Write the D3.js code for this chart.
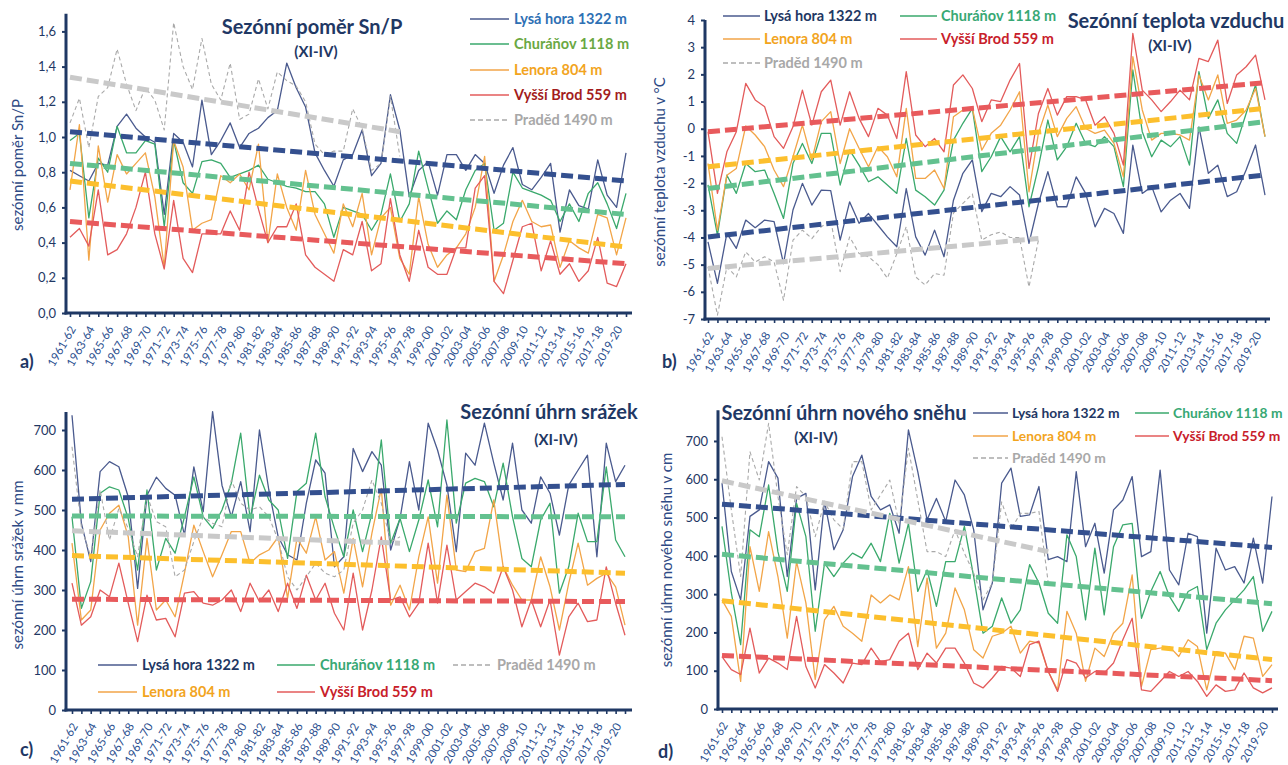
<!DOCTYPE html>
<html>
<head>
<meta charset="utf-8">
<script src="https://cdn.jsdelivr.net/npm/d3@7"></script>
<style>
  body { margin: 0; background: #fff; }
  svg { display: block; }
  text { font-family: Lato, "Open Sans", sans-serif; }
</style>
</head>
<body>
<svg id="chart" width="1288" height="765"></svg>
<script>
// Winter seasons XI–IV
const seasons = ["1961-62","1962-63","1963-64","1964-65","1965-66","1966-67","1967-68","1968-69","1969-70","1970-71",
  "1971-72","1972-73","1973-74","1974-75","1975-76","1976-77","1977-78","1978-79","1979-80","1980-81",
  "1981-82","1982-83","1983-84","1984-85","1985-86","1986-87","1987-88","1988-89","1989-90","1990-91",
  "1991-92","1992-93","1993-94","1994-95","1995-96","1996-97","1997-98","1998-99","1999-00","2000-01",
  "2001-02","2002-03","2003-04","2004-05","2005-06","2006-07","2007-08","2008-09","2009-10","2010-11",
  "2011-12","2012-13","2013-14","2014-15","2015-16","2016-17","2017-18","2018-19","2019-20","2020-21"];

const stations = ["Lysá hora 1322 m", "Churáňov 1118 m", "Lenora 804 m", "Vyšší Brod 559 m", "Praděd 1490 m"];

// a) seasonal ratio of new snow to precipitation (Sn/P)
const snpLysa = [0.81,0.78,0.75,0.85,0.84,1.06,1.13,1.05,1.00,0.97, 0.56,1.02,0.97,0.83,1.21,0.90,0.98,1.08,0.94,1.02,
  1.05,1.11,1.15,1.42,1.28,1.17,0.91,0.81,0.72,0.87, 0.90,1.04,0.78,0.85,1.24,1.04,0.66,0.81,0.86,0.67,
  0.90,0.90,0.81,0.90,0.85,0.68,0.84,0.94,0.73,0.70, 0.77,0.85,0.46,0.70,0.61,0.59,0.87,0.67,0.60,0.91];
const snpChur = [0.98,1.02,0.54,0.88,0.80,1.06,0.91,0.91,0.98,0.96, 0.49,0.98,0.74,0.68,0.86,0.87,0.85,0.77,0.79,0.81,
  0.84,0.76,0.74,0.72,0.71,0.69,0.69,0.62,0.43,0.60, 0.58,0.56,0.47,0.56,0.79,0.52,0.62,0.92,0.71,0.51,
  0.58,0.53,0.70,0.81,0.85,0.47,0.51,0.80,0.71,0.69, 0.67,0.64,0.52,0.62,0.52,0.68,0.74,0.62,0.48,0.68];
const snpLen = [0.70,1.07,0.30,0.95,0.63,0.90,0.79,0.85,0.91,0.66, 0.26,0.98,0.83,0.47,0.51,0.53,0.78,0.74,0.79,0.70,
  0.96,0.40,0.79,0.60,0.47,0.81,0.56,0.45,0.34,0.62, 0.49,0.68,0.33,0.54,0.60,0.31,0.22,0.66,0.39,0.26,
  0.33,0.37,0.45,0.60,0.89,0.18,0.33,0.52,0.64,0.52, 0.49,0.50,0.26,0.41,0.37,0.34,0.56,0.54,0.33,0.54];
const snpVB = [0.43,0.48,0.38,0.70,0.33,0.36,0.45,0.60,0.80,0.45, 0.25,0.64,0.31,0.23,0.45,0.45,0.45,0.58,0.47,0.80,
  0.59,0.40,0.49,0.49,0.62,0.33,0.26,0.22,0.18,0.36, 0.33,0.52,0.24,0.28,0.65,0.33,0.18,0.47,0.26,0.22,
  0.22,0.37,0.37,0.71,0.78,0.18,0.11,0.30,0.49,0.51, 0.24,0.41,0.22,0.28,0.18,0.24,0.43,0.17,0.15,0.28];
const snpPrad = [1.08,1.22,0.94,1.23,1.28,1.50,1.30,1.15,1.28,1.21, 1.04,1.65,1.40,1.27,1.56,1.30,1.21,1.42,1.10,1.13,
  1.33,1.16,1.37,1.32,1.29,1.20,0.96,0.90,0.92,0.92, 1.16,1.05,0.81,0.85,1.23,0.89];
const snpTrend = [[1.03,0.75],[0.85,0.56],[0.75,0.375],[0.52,0.28],[1.34,1.03]];
const snpTicks = [0,0.2,0.4,0.6,0.8,1.0,1.2,1.4,1.6];

// b) seasonal air temperature (°C)
const tLysa = [-4.16,-5.69,-3.85,-4.40,-3.36,-3.64,-3.36,-3.42,-4.96,-2.99, -2.01,-2.81,-2.26,-2.28,-4.10,-2.69,-3.48,-3.12,-3.55,-3.98,
  -4.34,-2.20,-3.98,-4.65,-3.73,-4.71,-2.63,-1.64,-1.15,-3.05, -2.38,-2.50,-2.13,-2.44,-4.22,-2.75,-1.58,-2.87,-2.87,-1.77,
  -2.38,-3.61,-2.93,-3.12,-3.85,-0.60,-2.38,-2.13,-3.06,-2.63, -2.38,-2.93,0.07,-1.64,-1.34,-2.50,-2.32,-1.52,-0.60,-2.44];
const tChur = [-2.07,-3.91,-1.71,-2.38,-1.28,-1.58,-1.52,-2.38,-3.30,-1.28, -0.54,-1.28,-0.17,-0.17,-2.07,-0.79,-1.34,-1.95,-1.77,-2.07,
  -2.38,-0.36,-2.26,-2.50,-2.81,-2.26,-0.42,0.20,0.75,-1.58, -1.03,-0.29,-0.85,-0.29,-2.87,-1.40,0.32,-1.15,-0.66,0.20,
  -0.54,-0.66,-0.29,-0.66,-2.13,2.16,-0.11,-1.03,-0.42,-0.66, -0.29,-1.34,2.10,0.38,1.06,-0.17,-0.54,0.56,1.61,-0.29];
const tLen = [-1.28,-3.73,-1.71,-1.46,0.10,-0.23,-0.66,-1.52,-2.13,-1.03, 0.13,-1.15,0.26,0.63,-1.28,0.00,-0.72,-1.40,-0.66,-1.03,
  -1.77,0.75,-1.83,-1.83,-1.52,-2.20,0.44,0.69,0.75,-0.79, -0.17,0.13,0.69,1.36,-2.32,-0.17,0.87,-0.29,0.38,0.81,
  0.01,-0.17,-0.05,-0.54,-1.77,2.65,0.69,-0.42,-0.17,-0.17, -0.23,-0.42,1.98,1.06,1.98,0.20,0.32,0.69,1.48,-0.29];
const tVB = [-0.11,-2.38,-0.85,-0.11,1.67,1.06,0.81,-0.29,-0.72,0.07, 1.42,0.13,1.36,1.79,0.13,1.36,0.38,-0.29,0.75,0.50,
  -0.36,2.10,-0.23,-0.66,-0.36,-0.85,1.61,1.98,1.48,0.26, 1.06,1.00,1.79,2.40,-1.46,0.56,1.48,0.50,1.18,1.18,
  1.06,0.13,0.44,-0.17,-1.34,3.51,1.42,1.06,0.63,1.00, 1.42,1.06,2.59,2.47,3.26,0.93,1.98,2.28,2.71,1.06];
const tPrad = [-5.08,-6.86,-5.08,-5.45,-4.53,-4.90,-4.71,-4.90,-6.31,-4.10, -3.73,-4.04,-3.61,-3.36,-5.26,-3.98,-4.59,-4.71,-5.00,-5.50,
  -4.60,-3.60,-5.45,-5.75,-5.33,-5.39,-3.10,-2.75,-2.40,-4.10, -3.90,-3.80,-4.00,-4.00,-5.82,-4.10];
const tTrend = [[-3.98,-1.70],[-2.20,0.26],[-1.40,0.75],[-0.11,1.69],[-5.14,-4.04]];
const tTicks = [-7,-6,-5,-4,-3,-2,-1,0,1,2,3,4];

// c) seasonal precipitation total (mm)
const pLysa = [737,467,371,596,621,608,533,304,537,582, 554,537,437,608,496,746,562,483,571,446,
  700,550,433,388,375,517,625,592,358,383, 654,596,646,612,400,479,621,500,717,650,
  562,396,642,612,717,617,525,667,500,467, 583,542,437,562,600,637,383,667,571,612];
const pChur = [483,254,321,542,558,550,479,350,550,350, 429,392,483,583,483,454,500,567,692,479,
  587,525,500,379,546,567,692,533,454,383, 500,396,492,675,417,479,396,475,575,458,
  725,467,567,579,571,508,617,483,379,358, 475,517,292,358,492,421,421,608,425,383];
const pLen = [417,225,250,450,492,512,433,212,429,250, 275,233,342,462,396,333,388,446,446,367,
  388,400,433,279,429,392,483,375,396,292, 429,308,442,554,262,312,250,383,483,317,
  537,350,346,396,404,525,358,312,275,275, 383,308,200,317,417,312,329,342,308,212];
const pVB = [317,212,233,300,283,367,267,171,287,225, 229,183,292,296,267,262,275,300,246,317,
  271,300,246,317,254,337,275,317,242,200, 342,200,300,433,275,283,233,267,417,267,
  412,275,296,317,308,292,358,300,208,275, 208,275,137,233,267,221,225,358,267,187];
const pPrad = [658,458,383,550,425,504,454,383,537,471, 458,333,350,421,483,467,458,575,517,500,
  508,483,425,333,300,333,367,342,333,350, 467,500,575,517,420,433];
const pTrend = [[527,564],[485,483],[386,342],[277,271],[448,417]];
const pTicks = [0,100,200,300,400,500,600,700];

// d) seasonal new snow total (cm)
const sLysa = [590,359,285,503,520,646,603,346,550,563, 311,542,416,468,607,663,555,520,533,459,
  729,620,494,550,490,598,559,468,259,329, 590,629,503,507,581,390,398,385,620,424,
  485,355,520,546,607,398,411,624,363,324, 459,450,198,420,363,372,329,446,329,555];
const sChur = [477,303,168,468,450,585,411,307,537,450, 203,381,346,381,407,394,433,385,511,381,
  485,307,363,268,385,385,477,346,198,216, 290,224,259,377,329,250,224,455,398,233,
  420,246,424,481,485,237,307,359,294,255, 307,320,155,224,259,285,311,346,203,255];
const sLen = [285,242,72,424,307,463,346,185,385,277, 77,233,268,216,198,177,298,277,298,285,
  372,163,342,159,198,316,259,155,133,190, 198,216,146,177,172,98,50,255,198,72,
  159,137,198,224,350,59,155,159,163,137, 181,163,50,150,146,103,190,185,85,116];
const sVB = [137,103,90,211,94,133,120,103,242,111, 55,116,94,68,120,116,159,124,129,177,
  198,103,146,120,159,159,120,68,55,81, 111,107,85,168,177,98,46,129,120,81,
  98,94,120,181,237,50,46,72,98,85, 98,72,33,63,46,50,94,55,42,55];
const sPrad = [711,520,346,672,598,746,555,403,581,555, 450,542,494,470,646,646,520,559,598,485,
  681,546,411,411,398,468,407,355,285,329, 541,468,511,511,516,329];
const sTrend = [[535,422],[404,275],[283,129],[140,74],[596,411]];
const sTicks = [0,100,200,300,400,500,600,700];

const NAVY = "#1f3864";
const LABEL_BLUE = "#2b4f8f";
const lineColors = ["#4a5a8e", "#3aa96c", "#f2a548", "#e35b5b", "#a9a9a9"];
const trendColors = ["#34508f", "#63c18f", "#fcbf2d", "#e85a5c", "#c9c9c9"];
const legendTextA = ["#2e70b4", "#6aa843", "#f2a41e", "#a31c1c", "#a8a8a8"];
const legendTextB = ["#1f3864", "#38a874", "#f2a41e", "#c8202a", "#a8a8a8"];

const svg = d3.select("#chart");

function drawPanel(p) {
  const g = svg.append("g");
  const x = d3.scalePoint().domain(seasons).range([p.first, p.last]);
  const y = d3.scaleLinear().domain(p.yDomain).range(p.yRange);
  const base = y(p.yDomain[0]);

  // category axis: a tick per season, a label every other season
  const xa = d3.axisBottom(x).tickSize(4).tickSizeOuter(0)
    .tickFormat((d, i) => (i % 2 === 0 ? d : ""));
  const gx = g.append("g").attr("transform", `translate(0,${base})`).call(xa);
  gx.select(".domain").remove();
  gx.selectAll(".tick line").attr("stroke", NAVY).attr("stroke-width", 1.6);
  gx.selectAll(".tick text")
    .attr("x", -11).attr("y", 9).attr("dy", "0.35em")
    .attr("transform", "rotate(-60)")
    .attr("text-anchor", "end")
    .attr("fill", LABEL_BLUE).style("font-size", "11.5px");

  // value axis
  const ya = d3.axisLeft(y).tickValues(p.ticks).tickSize(4).tickPadding(6).tickFormat(p.fmt);
  const gy = g.append("g").attr("transform", `translate(${p.axisX},0)`).call(ya);
  gy.select(".domain").remove();
  gy.selectAll(".tick line").attr("stroke", NAVY).attr("stroke-width", 2);
  gy.selectAll(".tick text").attr("fill", NAVY).style("font-size", "13px");

  g.append("line").attr("x1", p.axisX).attr("x2", p.axisX)
    .attr("y1", base + 1.5).attr("y2", p.yRange[1])
    .attr("stroke", NAVY).attr("stroke-width", 3);
  g.append("line").attr("x1", p.axisX - 1.5).attr("x2", p.xEnd)
    .attr("y1", base).attr("y2", base)
    .attr("stroke", NAVY).attr("stroke-width", 3);

  // station series
  const line = d3.line().x((d, i) => x(seasons[i])).y(d => y(d));
  p.data.forEach((vals, k) => {
    g.append("path").datum(vals)
      .attr("d", line)
      .attr("fill", "none")
      .attr("stroke", lineColors[k])
      .attr("stroke-width", k === 4 ? 1.1 : 1.3)
      .attr("stroke-dasharray", k === 4 ? "4,3" : null)
      .attr("stroke-linejoin", "round");
  });

  // linear trends
  p.trends.forEach((t, k) => {
    const n = p.data[k].length;
    g.append("line")
      .attr("x1", x(seasons[0])).attr("y1", y(t[0]))
      .attr("x2", x(seasons[n - 1])).attr("y2", y(t[1]))
      .attr("stroke", trendColors[k]).attr("stroke-width", 5)
      .attr("stroke-dasharray", "12,5");
  });

  // legend
  p.legend.forEach(e => {
    g.append("line").attr("x1", e.lx1).attr("x2", e.lx2).attr("y1", e.y).attr("y2", e.y)
      .attr("stroke", lineColors[e.k]).attr("stroke-width", 1.3)
      .attr("stroke-dasharray", e.k === 4 ? "5,3" : null);
    g.append("text").attr("x", e.tx).attr("y", e.y).attr("dy", "0.35em")
      .attr("fill", p.legendText[e.k]).style("font-size", p.legendSize).style("font-weight", 700)
      .text(stations[e.k]);
  });

  // titles
  g.append("text").attr("x", p.title.x).attr("y", p.title.y).attr("dy", "0.35em")
    .attr("text-anchor", "middle").attr("fill", NAVY)
    .style("font-size", "20px").style("font-weight", 700).text(p.title.text);
  g.append("text").attr("x", p.sub.x).attr("y", p.sub.y).attr("dy", "0.35em")
    .attr("text-anchor", "middle").attr("fill", NAVY)
    .style("font-size", "15px").style("font-weight", 700).text("(XI-IV)");

  // value axis title
  g.append("text")
    .attr("transform", `translate(${p.ytitle.x},${p.ytitle.y}) rotate(-90)`)
    .attr("text-anchor", "middle").attr("dy", "0.35em")
    .attr("fill", "#2e4a85").style("font-size", "15px").text(p.ytitle.text);

  // panel letter
  g.append("text").attr("x", p.letter.x).attr("y", p.letter.y).attr("dy", "0.35em")
    .attr("fill", NAVY).style("font-size", "18px").style("font-weight", 700).text(p.letter.text);
}

drawPanel({
  first: 70, last: 626, xEnd: 632, axisX: 66,
  yDomain: [0, 1.7], yRange: [313, 313 - 1.7 * 176],
  ticks: snpTicks, fmt: d => d.toFixed(1).replace(".", ","),
  data: [snpLysa, snpChur, snpLen, snpVB, snpPrad], trends: snpTrend,
  legendText: legendTextA, legendSize: "14.5px",
  legend: [
    {k: 0, lx1: 470, lx2: 509, tx: 514, y: 19},
    {k: 1, lx1: 470, lx2: 509, tx: 514, y: 44},
    {k: 2, lx1: 470, lx2: 509, tx: 514, y: 70},
    {k: 3, lx1: 470, lx2: 509, tx: 514, y: 95},
    {k: 4, lx1: 470, lx2: 509, tx: 514, y: 120}],
  title: {text: "Sezónní poměr Sn/P", x: 312, y: 27},
  sub: {x: 316, y: 52},
  ytitle: {text: "sezónní poměr  Sn/P", x: 18, y: 165},
  letter: {text: "a)", x: 20, y: 362}
});

drawPanel({
  first: 708, last: 1265, xEnd: 1270, axisX: 705,
  yDomain: [-7, 4], yRange: [319, 20],
  ticks: tTicks, fmt: d => String(d),
  data: [tLysa, tChur, tLen, tVB, tPrad], trends: tTrend,
  legendText: legendTextB, legendSize: "14.5px",
  legend: [
    {k: 0, lx1: 723, lx2: 760, tx: 764, y: 16},
    {k: 1, lx1: 900, lx2: 937, tx: 941, y: 16},
    {k: 2, lx1: 723, lx2: 760, tx: 764, y: 39},
    {k: 3, lx1: 900, lx2: 937, tx: 941, y: 39},
    {k: 4, lx1: 723, lx2: 760, tx: 764, y: 63}],
  title: {text: "Sezónní teplota vzduchu", x: 1176, y: 21},
  sub: {x: 1170, y: 46},
  ytitle: {text: "sezónní teplota vzduchu v °C", x: 660, y: 172},
  letter: {text: "b)", x: 662, y: 362}
});

drawPanel({
  first: 72, last: 625, xEnd: 632, axisX: 66,
  yDomain: [0, 745], yRange: [710, 710 - 745 * 0.4],
  ticks: pTicks, fmt: d => String(d),
  data: [pLysa, pChur, pLen, pVB, pPrad], trends: pTrend,
  legendText: legendTextB, legendSize: "14.5px",
  legend: [
    {k: 0, lx1: 98, lx2: 137, tx: 142, y: 665},
    {k: 1, lx1: 277, lx2: 315, tx: 320, y: 665},
    {k: 4, lx1: 453, lx2: 492, tx: 497, y: 665},
    {k: 2, lx1: 98, lx2: 137, tx: 142, y: 692},
    {k: 3, lx1: 277, lx2: 315, tx: 320, y: 692}],
  title: {text: "Sezónní úhrn srážek", x: 549, y: 412},
  sub: {x: 556, y: 440},
  ytitle: {text: "sezónní úhrn srážek v mm", x: 18, y: 565},
  letter: {text: "c)", x: 20, y: 750}
});

drawPanel({
  first: 722, last: 1272, xEnd: 1278, axisX: 718,
  yDomain: [0, 780], yRange: [709, 709 - 780 * 0.3829],
  ticks: sTicks, fmt: d => String(d),
  data: [sLysa, sChur, sLen, sVB, sPrad], trends: sTrend,
  legendText: legendTextB, legendSize: "13.8px",
  legend: [
    {k: 0, lx1: 973, lx2: 1008, tx: 1012, y: 413},
    {k: 1, lx1: 1135, lx2: 1169, tx: 1173, y: 413},
    {k: 2, lx1: 973, lx2: 1008, tx: 1012, y: 436},
    {k: 3, lx1: 1135, lx2: 1169, tx: 1173, y: 436},
    {k: 4, lx1: 973, lx2: 1008, tx: 1012, y: 458}],
  title: {text: "Sezónní úhrn nového sněhu", x: 844, y: 413},
  sub: {x: 816, y: 438},
  ytitle: {text: "sezónní úhrn nového sněhu v cm", x: 667, y: 560},
  letter: {text: "d)", x: 658, y: 752}
});
</script>
</body>
</html>
